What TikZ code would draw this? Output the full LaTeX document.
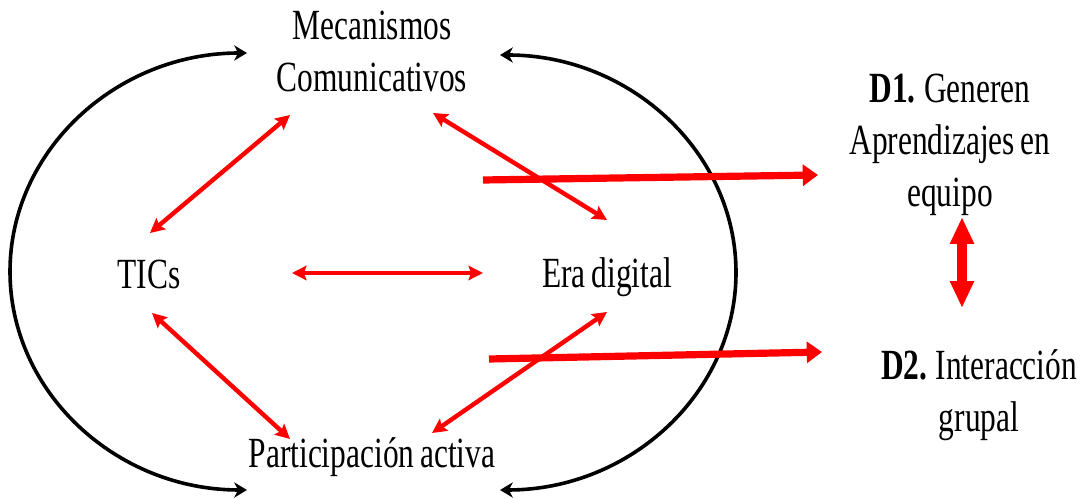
\documentclass[tikz,border=0pt]{standalone}
\usepackage{fontspec}
\setmainfont{Liberation Serif}[FakeStretch=0.73,WordSpace=0.75]
\usepackage{tikz}
\usetikzlibrary{arrows.meta,positioning}

\begin{document}
\begin{tikzpicture}[x=0.025cm,y=0.025cm]
\tikzstyle{txt}=[align=center, inner sep=0pt, font=\fontsize{30.6}{37}\selectfont]
\tikzstyle{rarrow}=[red, line width=1.1mm, {Stealth[length=3.6mm,width=3.6mm,inset=0.6mm]}-{Stealth[length=3.6mm,width=3.6mm,inset=0.6mm]}]
\tikzstyle{bigarrow}=[red, line width=1.8mm, -{Triangle[length=3.8mm,width=5.2mm]}]
\tikzstyle{dblarrow}=[red, line width=2.4mm, {Triangle[length=6.7mm,width=5.6mm]}-{Triangle[length=6.7mm,width=5.6mm]}]
\tikzstyle{barc}=[black, line width=0.9mm, {Stealth[length=3.2mm,width=3.8mm,inset=1mm]}-{Stealth[length=3.2mm,width=3.8mm,inset=1mm]}]

\useasboundingbox (0,0) rectangle (1086,499);

\node[txt] (mec) at (372,447.5) {Mecanismos\\Comunicativos};
\node[txt, anchor=base] (tics) at (149,210) {TICs};
\node[txt, anchor=base] (era) at (607,211) {Era digital};
\node[txt, anchor=base] (part) at (372,31) {Participación activa};
\node[txt] (d1) at (950,354) {\textbf{D1.} Generen\\Aprendizajes en\\equipo};
\node[txt] (d2) at (979,103.5) {\textbf{D2.} Interacción\\grupal};

% ciclo
\draw[barc] ([shift={(-125,-22)}]part.base) arc[start angle=270, end angle=90, x radius=237, y radius=218.5];
\draw[barc] ([shift={(128,-22)}]part.base) arc[start angle=-90, end angle=90, x radius=236, y radius=217.5];

% relaciones
\draw[rarrow] ([shift={(-82,-63.5)}]mec.center) -- ([shift={(1,56)}]tics.base);
\draw[rarrow] ([shift={(61,-61.5)}]mec.center) -- ([shift={(0,68)}]era.base);
\draw[rarrow] ([shift={(143,16)}]tics.base) -- ([shift={(-124,15)}]era.base);
\draw[rarrow] ([shift={(3,-24)}]tics.base) -- ([shift={(-82,29)}]part.base);
\draw[rarrow] ([shift={(0,-24)}]era.base) -- ([shift={(60,35)}]part.base);

% dimensiones
\coordinate (s1) at (483,319);
\coordinate (s2) at (489,140);
\draw[bigarrow] (s1) -- ([shift={(-132,-30)}]d1.center);
\draw[bigarrow] (s2) -- ([shift={(-157,43.5)}]d2.center);
\draw[dblarrow] ([shift={(12,-72)}]d1.center) -- ([shift={(-17,87.5)}]d2.center);
\end{tikzpicture}
\end{document}
